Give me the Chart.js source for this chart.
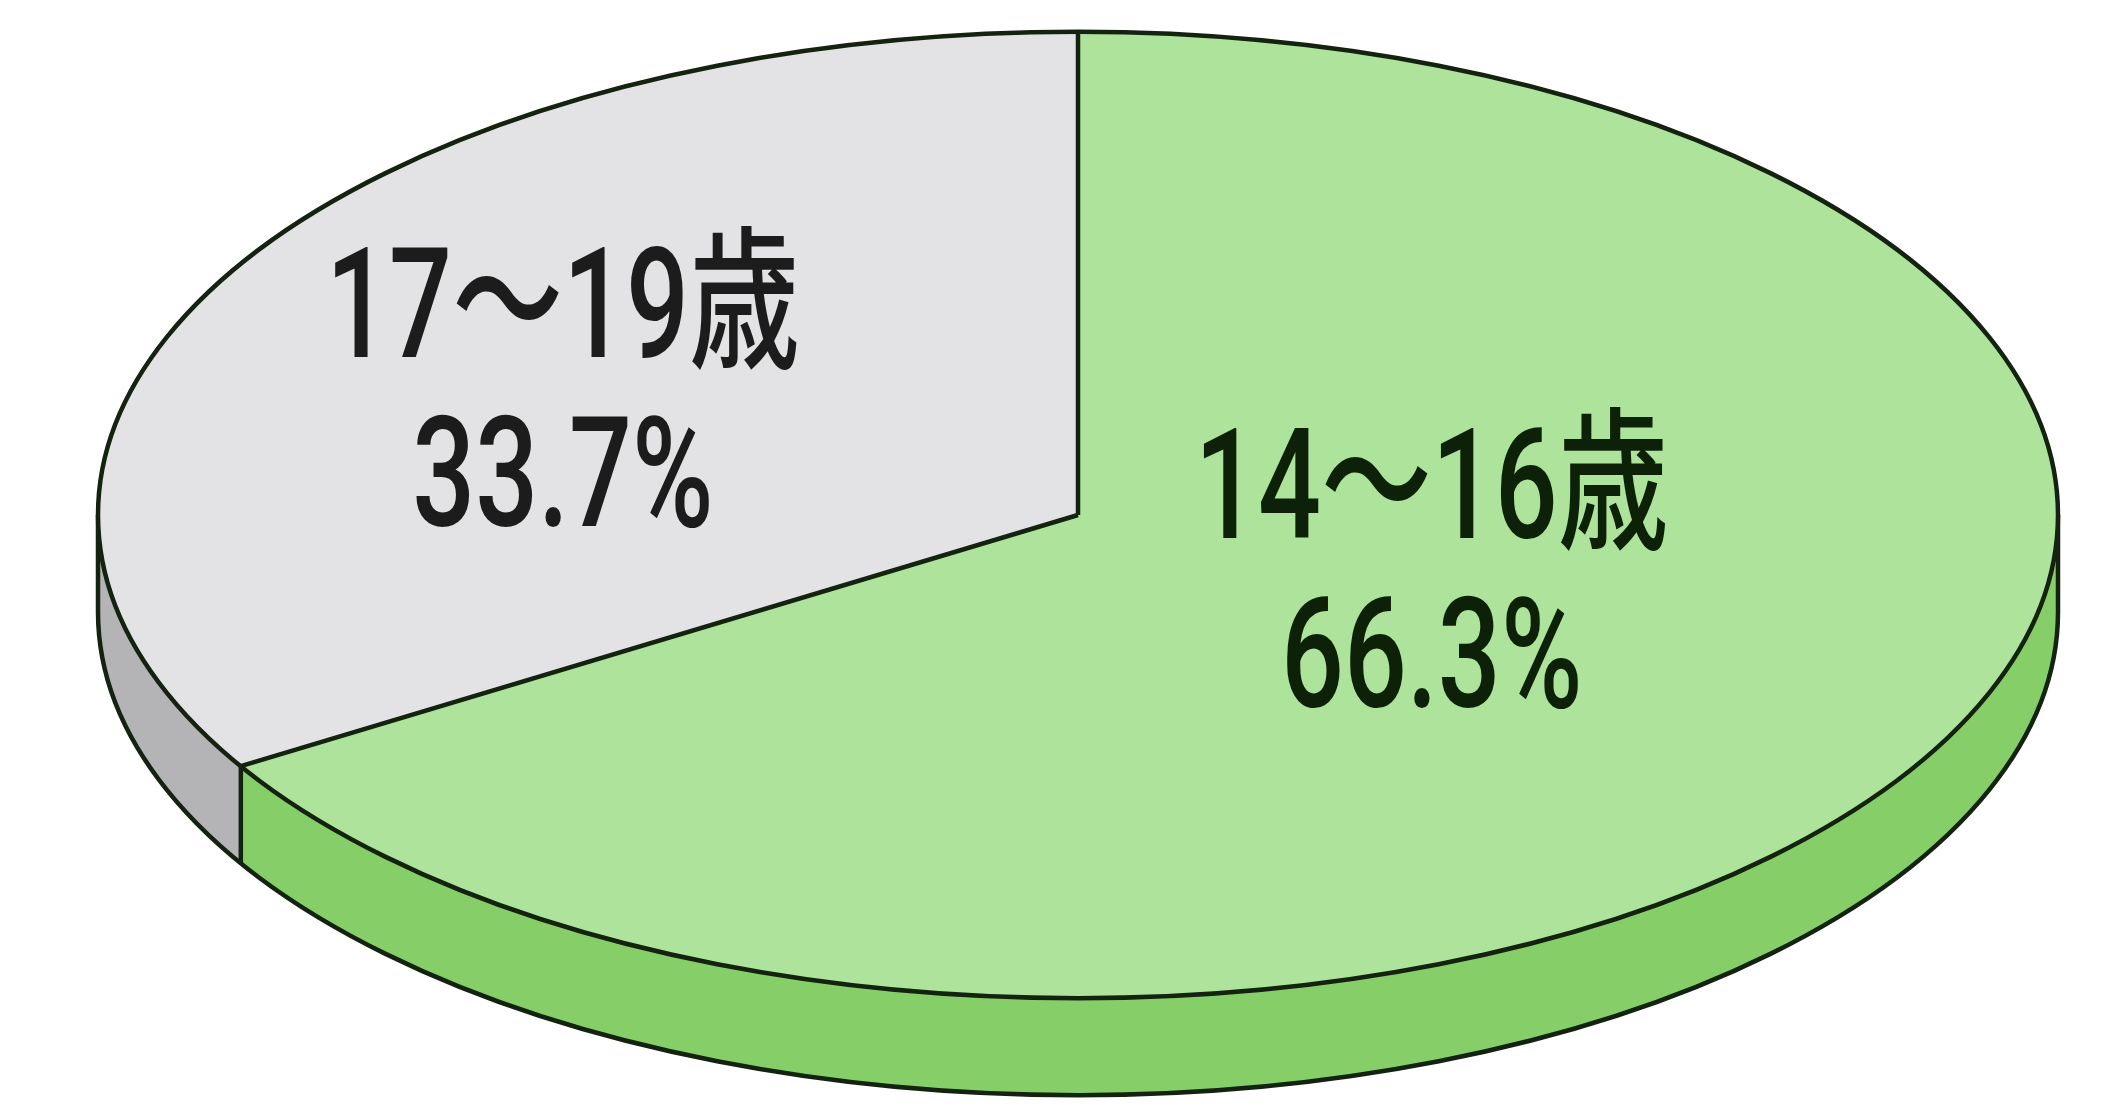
<!DOCTYPE html>
<html>
<head>
<meta charset="utf-8">
<script src="https://cdn.jsdelivr.net/npm/chart.js@4.4.1/dist/chart.umd.min.js"></script>
<style>
  html, body { margin: 0; padding: 0; background: #ffffff; }
  canvas { display: block; }
</style>
</head>
<body>
<canvas id="c" width="2127" height="1114"></canvas>
<script>
// ---- data ----
const categories = ['14～16歳', '17～19歳'];
const shares = [66.3, 33.7];
const valueLabels = ['66.3%', '33.7%'];

// ---- styles ----
const topColors = ['#ade39a', '#e3e3e5'];
const sideColors = ['#86cf68', '#b4b4b6'];
const textColors = ['#0d2108', '#1c1c1c'];

function lowerSegments(s, e) {
  const segs = [];
  for (let k = -2; k <= 2; k++) {
    const lo = k * 2 * Math.PI, hi = lo + Math.PI;
    const a = Math.max(s, lo), b = Math.min(e, hi);
    if (b > a) segs.push([a, b]);
  }
  return segs;
}

const pie3d = {
  id: 'pie3d',
  beforeDatasetsDraw(chart, args, opts) {
    const ctx = chart.ctx;
    const arcs = chart.getDatasetMeta(0).data;
    const cx = arcs[0].x, cy = arcs[0].y, R = arcs[0].outerRadius;
    const ry = R * opts.tilt, T = opts.depth;
    ctx.save();
    arcs.forEach((arc, i) => {
      lowerSegments(arc.startAngle, arc.endAngle).forEach(([a0, a1]) => {
        ctx.beginPath();
        ctx.ellipse(cx, cy, R, ry, 0, a0, a1);
        ctx.ellipse(cx, cy + T, R, ry, 0, a1, a0, true);
        ctx.closePath();
        ctx.fillStyle = opts.sideColors[i];
        ctx.fill();
      });
    });
    ctx.lineWidth = opts.lineWidth;
    ctx.strokeStyle = opts.lineColor;
    ctx.beginPath();
    ctx.moveTo(cx - R, cy); ctx.lineTo(cx - R, cy + T);
    ctx.moveTo(cx + R, cy); ctx.lineTo(cx + R, cy + T);
    ctx.stroke();
    ctx.beginPath();
    ctx.ellipse(cx, cy + T, R, ry, 0, 0, Math.PI);
    ctx.stroke();
    arcs.forEach(arc => {
      let a = arc.startAngle % (2 * Math.PI);
      if (a < 0) a += 2 * Math.PI;
      if (a > 0 && a < Math.PI) {
        const px = cx + R * Math.cos(a), py = cy + ry * Math.sin(a);
        ctx.beginPath(); ctx.moveTo(px, py); ctx.lineTo(px, py + T); ctx.stroke();
      }
    });
    ctx.restore();
    ctx.save();
    ctx.translate(cx, cy);
    ctx.scale(1, opts.tilt);
    ctx.translate(-cx, -cy);
  },
  afterDatasetsDraw(chart, args, opts) {
    const ctx = chart.ctx;
    ctx.restore();
    const arcs = chart.getDatasetMeta(0).data;
    const cx = arcs[0].x, cy = arcs[0].y, R = arcs[0].outerRadius;
    const ry = R * opts.tilt;
    ctx.save();
    ctx.lineWidth = opts.lineWidth;
    ctx.strokeStyle = opts.lineColor;
    ctx.lineJoin = 'round';
    ctx.beginPath();
    ctx.ellipse(cx, cy, R, ry, 0, 0, 2 * Math.PI);
    ctx.stroke();
    arcs.forEach(arc => {
      const a = arc.startAngle;
      ctx.beginPath();
      ctx.moveTo(cx, cy);
      ctx.lineTo(cx + R * Math.cos(a), cy + ry * Math.sin(a));
      ctx.stroke();
    });
    // labels
    ctx.font = opts.font;
    ctx.textAlign = 'center';
    ctx.textBaseline = 'alphabetic';
    arcs.forEach((arc, i) => {
      const [fx, fy] = opts.labelAnchors[i];
      const x = cx + fx * R, y = cy + fy * ry;
      const lines = [chart.data.labels[i], valueLabels[i]];
      ctx.fillStyle = opts.textColors[i];
      lines.forEach((t, j) => {
        ctx.save();
        ctx.translate(x, y + j * opts.lineHeight);
        ctx.scale(opts.condense, 1);
        ctx.fillText(t, 0, 0);
        ctx.restore();
      });
    });
    ctx.restore();
  }
};

new Chart(document.getElementById('c'), {
  type: 'pie',
  data: {
    labels: categories,
    datasets: [{
      data: shares,
      backgroundColor: topColors,
      borderWidth: 0,
      radius: 980,
      clip: false
    }]
  },
  options: {
    responsive: false,
    animation: false,
    devicePixelRatio: 1,
    layout: { padding: { left: 29, right: 0, top: 0, bottom: 84 } },
    plugins: {
      legend: { display: false },
      tooltip: { enabled: false },
      pie3d: {
        tilt: 0.493,
        depth: 97,
        lineWidth: 4.5,
        lineColor: '#142210',
        sideColors: sideColors,
        textColors: textColors,
        font: '500 154px Roboto, "Noto Sans CJK JP", sans-serif',
        condense: 0.72,
        lineHeight: 169,
        labelAnchors: [[0.361, 0.048], [-0.5255, -0.327]]
      }
    }
  },
  plugins: [pie3d]
});
</script>
</body>
</html>
